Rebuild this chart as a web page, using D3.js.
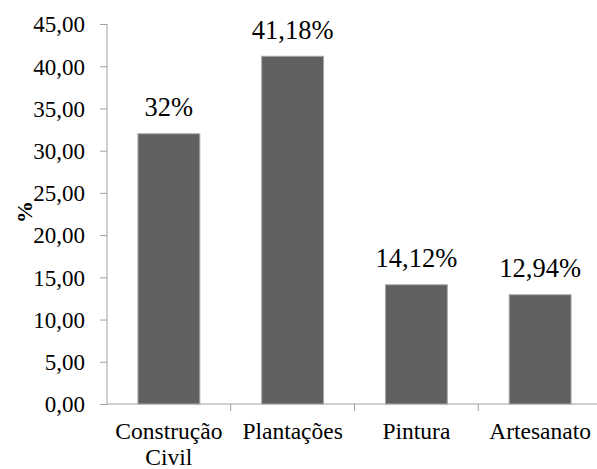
<!DOCTYPE html>
<html>
<head>
<meta charset="utf-8">
<script src="https://cdn.jsdelivr.net/npm/d3@7"></script>
<style>
  html, body { margin: 0; padding: 0; background: #fff; }
  svg { display: block; }
</style>
</head>
<body>
<svg id="chart" width="597" height="469"></svg>
<script>
// Share of participants by activity (%)
const categories = ["Construção Civil", "Plantações", "Pintura", "Artesanato"];
const categoryLines = [["Construção", "Civil"], ["Plantações"], ["Pintura"], ["Artesanato"]];
const values = [32, 41.18, 14.12, 12.94];
const valueLabels = ["32%", "41,18%", "14,12%", "12,94%"];
const yTicks = [0, 5, 10, 15, 20, 25, 30, 35, 40, 45];

const FONT = "Liberation Serif, DejaVu Serif, Noto Serif, Times New Roman, serif";

const svg = d3.select("#chart");
const margin = { left: 107, top: 24 };
const plotBottom = 404;
const bandW = 123.75;

const x = d3.scaleBand()
  .domain(categories)
  .range([margin.left, margin.left + bandW * categories.length])
  .paddingInner(0.5)
  .paddingOuter(0.25);

const y = d3.scaleLinear().domain([0, 45]).range([plotBottom, margin.top]);

const axisColor = "#a0a0a0";

// Y axis
const yAxis = svg.append("g")
  .attr("transform", `translate(${margin.left},0)`)
  .call(d3.axisLeft(y).tickValues(yTicks).tickSize(7).tickPadding(15)
    .tickFormat(d => d3.format(".2f")(d).replace(".", ",")));
yAxis.attr("font-family", FONT).attr("font-size", 23);
yAxis.select(".domain").attr("stroke", axisColor).attr("d", `M0,${margin.top}V${plotBottom}`);
yAxis.selectAll(".tick line").attr("stroke", axisColor);
yAxis.selectAll(".tick text")
  .attr("font-family", FONT)
  .attr("font-size", 23)
  .attr("fill", "#000")
  .attr("dy", "0.34em");

// X axis line and boundary ticks
const xStart = margin.left;
const xEnd = margin.left + bandW * categories.length;
svg.append("line")
  .attr("x1", xStart).attr("x2", xEnd)
  .attr("y1", plotBottom).attr("y2", plotBottom)
  .attr("stroke", axisColor);
const boundaries = d3.range(1, categories.length).map(i => xStart + i * bandW);
svg.selectAll(".xtick").data(boundaries).enter().append("line")
  .attr("class", "xtick")
  .attr("x1", d => d).attr("x2", d => d)
  .attr("y1", plotBottom).attr("y2", plotBottom + 7)
  .attr("stroke", axisColor);

// Bars
svg.selectAll(".bar").data(values).enter().append("rect")
  .attr("class", "bar")
  .attr("x", (d, i) => x(categories[i]))
  .attr("width", x.bandwidth())
  .attr("y", d => y(d))
  .attr("height", d => y(0) - y(d))
  .attr("fill", "#606060")
  .attr("stroke", "#a8a8a8")
  .attr("stroke-width", 1);

// Value labels
svg.selectAll(".vlabel").data(values).enter().append("text")
  .attr("class", "vlabel")
  .attr("x", (d, i) => x(categories[i]) + x.bandwidth() / 2)
  .attr("y", d => y(d) - 17.5)
  .attr("text-anchor", "middle")
  .attr("font-family", FONT)
  .attr("font-size", 26.5)
  .attr("fill", "#000")
  .text((d, i) => valueLabels[i]);

// Category labels
const catG = svg.selectAll(".clabel").data(categories).enter().append("text")
  .attr("class", "clabel")
  .attr("text-anchor", "middle")
  .attr("font-family", FONT)
  .attr("font-size", 23.5)
  .attr("fill", "#000")
  .attr("x", d => x(d) + x.bandwidth() / 2)
  .attr("y", 439);
catG.each(function(d, i) {
  const t = d3.select(this);
  categoryLines[i].forEach((line, j) => {
    t.append("tspan")
      .attr("x", x(d) + x.bandwidth() / 2)
      .attr("dy", j === 0 ? 0 : 26)
      .text(line);
  });
});

// Y axis title
svg.append("text")
  .attr("transform", "translate(32,212) rotate(-90)")
  .attr("text-anchor", "middle")
  .attr("font-family", FONT)
  .attr("font-size", 22)
  .attr("font-weight", "bold")
  .attr("fill", "#000")
  .text("%");
</script>
</body>
</html>
